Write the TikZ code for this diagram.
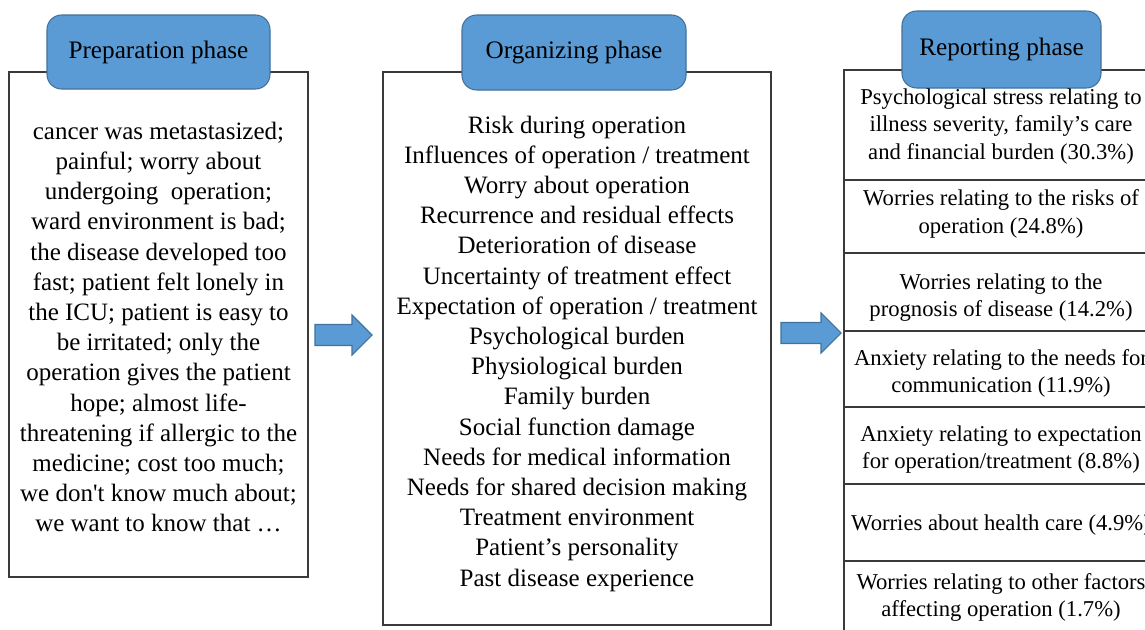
\documentclass[tikz,border=0pt]{standalone}
\usepackage{fontspec}
\setmainfont{Liberation Serif}[Ligatures=TeXOff]
\definecolor{hdrblue}{HTML}{5B9BD5}
\definecolor{hdredge}{HTML}{41719C}
\definecolor{framegray}{HTML}{3A3A3A}
\begin{document}
\begin{tikzpicture}[x=0.75pt,y=-0.75pt,
  frame/.style={draw=framegray,line width=1.1pt,inner sep=0pt},
  phasehdr/.style={draw=hdredge,line width=0.8pt,fill=hdrblue,rounded corners=11pt,inner sep=0pt,font=\fontsize{18.9pt}{22.65pt}\selectfont},
  bigtext/.style={inner sep=0pt,align=center,font=\fontsize{18.75pt}{22.65pt}\selectfont},
  celltext/.style={inner sep=0pt,align=center,font=\fontsize{17pt}{20.6pt}\selectfont},
  blockarrow/.style={draw=hdredge,line width=0.8pt,fill=hdrblue,line join=miter}]
\clip (0,0) rectangle (1145,629);
\fill[white] (0,0) rectangle (1145,629);

% frames
\node[frame,minimum width=224.25pt,minimum height=378.75pt] (prep) at (158.5,324.5) {};
\node[frame,minimum width=291pt,minimum height=414.75pt] (org) at (577,348.5) {};
\node[frame,minimum width=235.5pt,minimum height=82.5pt] (c1) at (1001,125) {};
\node[frame,minimum width=235.5pt,minimum height=54.75pt] (c2) at (1001,216.5) {};
\node[frame,minimum width=235.5pt,minimum height=58.5pt] (c3) at (1001,292) {};
\node[frame,minimum width=235.5pt,minimum height=57pt] (c4) at (1001,369) {};
\node[frame,minimum width=235.5pt,minimum height=57.75pt] (c5) at (1001,445.5) {};
\node[frame,minimum width=235.5pt,minimum height=57.75pt] (c6) at (1001,522.5) {};
\node[frame,minimum width=235.5pt,minimum height=59.25pt] (c7) at (1001,600.5) {};

% headers
\node[phasehdr,minimum width=167.25pt,minimum height=55.5pt] (hprep) at (158.5,52) {Preparation phase};
\node[phasehdr,minimum width=168pt,minimum height=56.25pt] (horg) at (574,52.5) {Organizing phase};
\node[phasehdr,minimum width=149.25pt,minimum height=57.75pt] (hrep) at (1001.5,49.5) {Reporting phase};

% left text
\node[bigtext] (preptext) at (158.5,329.5) {\strut cancer was metastasized;\\
painful; worry about\\
undergoing\ \ operation;\\
ward environment is bad;\\
the disease developed too\\
fast; patient felt lonely in\\
the ICU; patient is easy to\\
be irritated; only the\\
operation gives the patient\\
hope; almost life-\\
threatening if allergic to the\\
medicine; cost too much;\\
we don't know much about;\\
we want to know that …\strut};

% middle text
\node[bigtext] (orgtext) at (577,353.5) {\strut Risk during operation\\
Influences of operation / treatment\\
Worry about operation\\
Recurrence and residual effects\\
Deterioration of disease\\
Uncertainty of treatment effect\\
Expectation of operation / treatment\\
Psychological burden\\
Physiological burden\\
Family burden\\
Social function damage\\
Needs for medical information\\
Needs for shared decision making\\
Treatment environment\\
Patient’s personality\\
Past disease experience\strut};

% right texts
\node[celltext] (t1) at (1001,126.5) {\strut Psychological stress relating to\\ illness severity, family’s care\\ and financial burden (30.3\%)\strut};
\node[celltext] (t2) at (1001,214) {\strut Worries relating to the risks of\\ operation (24.8\%)\strut};
\node[celltext] (t3) at (1001,297.5) {\strut Worries relating to the\\ prognosis of disease (14.2\%)\strut};
\node[celltext] (t4) at (1001,373.5) {\strut Anxiety relating to the needs for\\ communication (11.9\%)\strut};
\node[celltext] (t5) at (1001,449.5) {\strut Anxiety relating to expectation\\ for operation/treatment (8.8\%)\strut};
\node[celltext] (t6) at (1001,524.5) {\strut Worries about health care (4.9\%)\strut};
\node[celltext] (t7) at (1001,597.5) {\strut Worries relating to other factors\\ affecting operation (1.7\%)\strut};

% block arrows
\coordinate (a1) at (315,335);
\draw[blockarrow] (a1) ++(0,-10.5) -- ++(37,0) -- ++(0,-9.5) -- ++(20,20) -- ++(-20,20) -- ++(0,-9.5) -- ++(-37,0) -- cycle;
\coordinate (a2) at (781,333);
\draw[blockarrow] (a2) ++(0,-10.5) -- ++(40,0) -- ++(0,-9.5) -- ++(20,20) -- ++(-20,20) -- ++(0,-9.5) -- ++(-40,0) -- cycle;
\end{tikzpicture}
\end{document}
